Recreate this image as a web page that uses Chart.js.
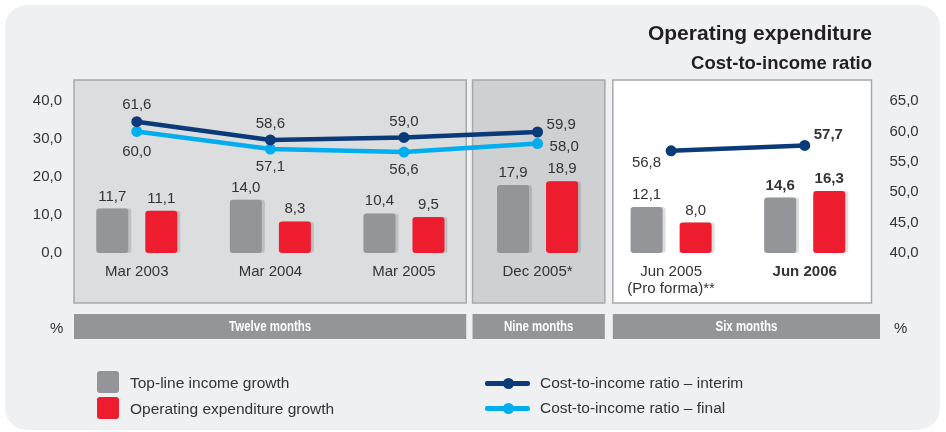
<!DOCTYPE html>
<html>
<head>
<meta charset="utf-8">
<script src="https://cdn.jsdelivr.net/npm/chart.js@4.4.1/dist/chart.umd.min.js"></script>
<style>
  html, body { margin:0; padding:0; background:#ffffff; }
  body { width:946px; height:432px; position:relative; overflow:hidden; font-family:"Liberation Sans", Arial, sans-serif; color:#333; }
  #bg { position:absolute; left:5px; top:5px; width:935px; height:425px; background:#eff0f2; border-radius:22px; }
  #wrap { position:absolute; left:0; top:0; width:946px; height:432px; }
  .t { position:absolute; white-space:nowrap; }
  #title { right:74px; top:21px; font-weight:bold; font-size:21px; line-height:24px; color:#231f20; }
  #subtitle { right:74px; top:52px; font-weight:bold; font-size:18.5px; line-height:22px; color:#231f20; }
  .pct { font-size:15px; line-height:18px; top:319px; }
  .sw { position:absolute; width:22px; height:22px; border-radius:3px; }
  .lg { font-size:15.5px; line-height:18px; }
  .ln { position:absolute; height:5px; width:45px; border-radius:2px; }
  .dot { position:absolute; width:11px; height:11px; border-radius:50%; }
</style>
</head>
<body>
<div id="bg"></div>
<div id="wrap"><canvas id="c" width="946" height="432"></canvas></div>
<div class="t" id="title">Operating expenditure</div>
<div class="t" id="subtitle">Cost-to-income ratio</div>
<div class="t pct" style="left:50px;">%</div>
<div class="t pct" style="left:894px;">%</div>

<div class="sw" style="left:97px; top:371px; background:#939598;"></div>
<div class="t lg" style="left:130px; top:374px;">Top-line income growth</div>
<div class="sw" style="left:97px; top:397px; background:#ed1c2e;"></div>
<div class="t lg" style="left:130px; top:400px;">Operating expenditure growth</div>

<div class="ln" style="left:485px; top:381px; background:#0b3a79;"></div>
<div class="dot" style="left:503px; top:378px; background:#0b3a79;"></div>
<div class="t lg" style="left:540px; top:374px;">Cost-to-income ratio – interim</div>
<div class="ln" style="left:485px; top:406px; background:#00aeef;"></div>
<div class="dot" style="left:503px; top:403px; background:#00aeef;"></div>
<div class="t lg" style="left:540px; top:399px;">Cost-to-income ratio – final</div>

<script>
// ---- data ----
const categories = ['Mar 2003', 'Mar 2004', 'Mar 2005', 'Dec 2005*', ['Jun 2005', '(Pro forma)**'], 'Jun 2006'];
const topLineIncomeGrowth = [11.7, 14.0, 10.4, 17.9, 12.1, 14.6];
const opexGrowth = [11.1, 8.3, 9.5, 18.9, 8.0, 16.3];
const ratioInterim = [61.6, 58.6, 59.0, 59.9, 56.8, 57.7];
const ratioFinal = [60.0, 57.1, 56.6, 58.0, null, null];
const leftTicks = [0, 10, 20, 30, 40];
const rightTicks = [40, 45, 50, 55, 60, 65];
const periods = ['Twelve months', 'Nine months', 'Six months'];

const FONT = '"Liberation Sans", Arial, sans-serif';
const fmt = v => v.toFixed(1).replace('.', ',');
const DARK = '#0b3a79', LIGHT = '#00aeef', GREY = '#939598', RED = '#ed1c2e';

const panels = {
  id: 'panels',
  beforeDraw(chart) {
    const ctx = chart.ctx, x = chart.scales.x, ca = chart.chartArea;
    const c = i => x.getPixelForValue(i);
    const m1 = (c(2) + c(3)) / 2, m2 = (c(3) + c(4)) / 2;
    const boxes = [
      { l: ca.left + 4, r: m1 - 4.5, fill: '#dcdddf', bandR: m1 - 4.5 },
      { l: m1 + 1.8, r: m2 + 0.5, fill: '#cfd0d2', bandR: m2 + 0.5 },
      { l: m2 + 8.5, r: ca.right, fill: '#ffffff', bandR: ca.right + 8.5 }
    ];
    ctx.save();
    boxes.forEach((b, k) => {
      ctx.fillStyle = b.fill;
      ctx.fillRect(b.l, 80, b.r - b.l, 223);
      ctx.strokeStyle = '#a6a8ab';
      ctx.lineWidth = 1.5;
      ctx.strokeRect(b.l, 80, b.r - b.l, 223);
      // period bands
      ctx.fillStyle = GREY;
      ctx.fillRect(b.l, 314, b.bandR - b.l, 25);
      ctx.save();
      ctx.fillStyle = '#ffffff';
      ctx.font = 'bold 14px ' + FONT;
      ctx.textAlign = 'center';
      ctx.textBaseline = 'middle';
      ctx.translate((b.l + b.bandR) / 2, 327);
      ctx.scale(0.82, 1);
      ctx.fillText(periods[k], 0, 0);
      ctx.restore();
    });
    ctx.restore();
  }
};

const barShadow = {
  id: 'barShadow',
  beforeDatasetDraw(chart, args) {
    const ds = chart.data.datasets[args.index];
    if (ds.type !== 'line') {
      const ctx = chart.ctx;
      ctx.save();
      ctx.shadowColor = 'rgba(0,0,0,0.13)';
      ctx.shadowOffsetX = 3;
      ctx.shadowOffsetY = 0;
      ctx.shadowBlur = 0;
    }
  },
  afterDatasetDraw(chart, args) {
    const ds = chart.data.datasets[args.index];
    if (ds.type !== 'line') chart.ctx.restore();
  }
};

const valueLabels = {
  id: 'valueLabels',
  afterDatasetsDraw(chart, args, opts) {
    const ctx = chart.ctx;
    ctx.save();
    ctx.fillStyle = '#333333';
    chart.data.datasets.forEach((ds, di) => {
      const meta = chart.getDatasetMeta(di);
      meta.data.forEach((el, i) => {
        const v = ds.data[i];
        if (v == null) return;
        const bold = i === opts.boldIndex;
        ctx.font = (bold ? 'bold ' : '') + '15px ' + FONT;
        const txt = fmt(v);
        if (ds.type === 'line') {
          const p = opts.placement[di][i];
          ctx.textAlign = p.a;
          ctx.textBaseline = 'middle';
          ctx.fillText(txt, el.x + p.dx, el.y + p.dy);
        } else {
          ctx.textAlign = 'center';
          ctx.textBaseline = 'alphabetic';
          ctx.fillText(txt, el.x, el.y - 8);
        }
      });
    });
    ctx.restore();
  }
};

const lineCommon = {
  type: 'line',
  yAxisID: 'y1',
  borderWidth: 4.5,
  pointRadius: 5.5,
  pointHoverRadius: 5.5,
  pointBorderWidth: 0,
  tension: 0,
  spanGaps: false,
  order: 0
};

new Chart(document.getElementById('c'), {
  type: 'bar',
  data: {
    labels: categories,
    datasets: [
      Object.assign({}, lineCommon, {
        label: 'Cost-to-income ratio – interim',
        data: ratioInterim,
        borderColor: DARK,
        backgroundColor: DARK,
        pointBackgroundColor: DARK,
        segment: { borderColor: c => c.p0DataIndex === 3 ? 'rgba(0,0,0,0)' : DARK }
      }),
      Object.assign({}, lineCommon, {
        label: 'Cost-to-income ratio – final',
        data: ratioFinal,
        borderColor: LIGHT,
        backgroundColor: LIGHT,
        pointBackgroundColor: LIGHT
      }),
      {
        type: 'bar', label: 'Top-line income growth', data: topLineIncomeGrowth,
        backgroundColor: GREY, yAxisID: 'y', order: 1,
        barPercentage: 0.653, categoryPercentage: 0.734,
        borderRadius: 3, borderSkipped: false
      },
      {
        type: 'bar', label: 'Operating expenditure growth', data: opexGrowth,
        backgroundColor: RED, yAxisID: 'y', order: 1,
        barPercentage: 0.653, categoryPercentage: 0.734,
        borderRadius: 3, borderSkipped: false
      }
    ]
  },
  options: {
    responsive: false,
    animation: false,
    devicePixelRatio: 1,
    layout: { padding: { top: 101, bottom: 119, left: 0, right: 0 } },
    plugins: {
      legend: { display: false },
      tooltip: { enabled: false },
      valueLabels: {
        boldIndex: 5,
        placement: {
          0: [
            { dx: 0, dy: -17, a: 'center' }, { dx: 0, dy: -16, a: 'center' }, { dx: 0, dy: -16, a: 'center' },
            { dx: 9, dy: -7, a: 'left' }, { dx: -10, dy: 12, a: 'right' }, { dx: 9, dy: -11, a: 'left' }
          ],
          1: [
            { dx: 0, dy: 20, a: 'center' }, { dx: 0, dy: 18, a: 'center' }, { dx: 0, dy: 18, a: 'center' },
            { dx: 12, dy: 3, a: 'left' }
          ]
        }
      }
    },
    scales: {
      x: {
        type: 'category',
        offset: true,
        grid: { display: false, drawTicks: false },
        border: { display: false },
        ticks: {
          padding: 10,
          color: '#333333',
          maxRotation: 0,
          autoSkip: false,
          font: c => ({ family: FONT, size: 15, lineHeight: 1.15, weight: c.index === 5 ? 'bold' : 'normal' })
        },
        afterFit: s => { s.height = 60; }
      },
      y: {
        position: 'left',
        min: 0, max: 40,
        grid: { display: false, drawTicks: false },
        border: { display: false },
        afterBuildTicks: s => { s.ticks = leftTicks.map(v => ({ value: v })); },
        ticks: { padding: 8, color: '#333333', font: { family: FONT, size: 15 }, callback: v => fmt(v) },
        afterFit: s => { s.width = 70; }
      },
      y1: {
        position: 'right',
        min: 40, max: 65,
        grid: { display: false, drawTicks: false },
        border: { display: false },
        afterBuildTicks: s => { s.ticks = rightTicks.map(v => ({ value: v })); },
        ticks: { padding: 18, color: '#333333', font: { family: FONT, size: 15 }, callback: v => fmt(v) },
        afterFit: s => { s.width = 74.5; }
      }
    }
  },
  plugins: [panels, barShadow, valueLabels]
});
</script>
</body>
</html>
